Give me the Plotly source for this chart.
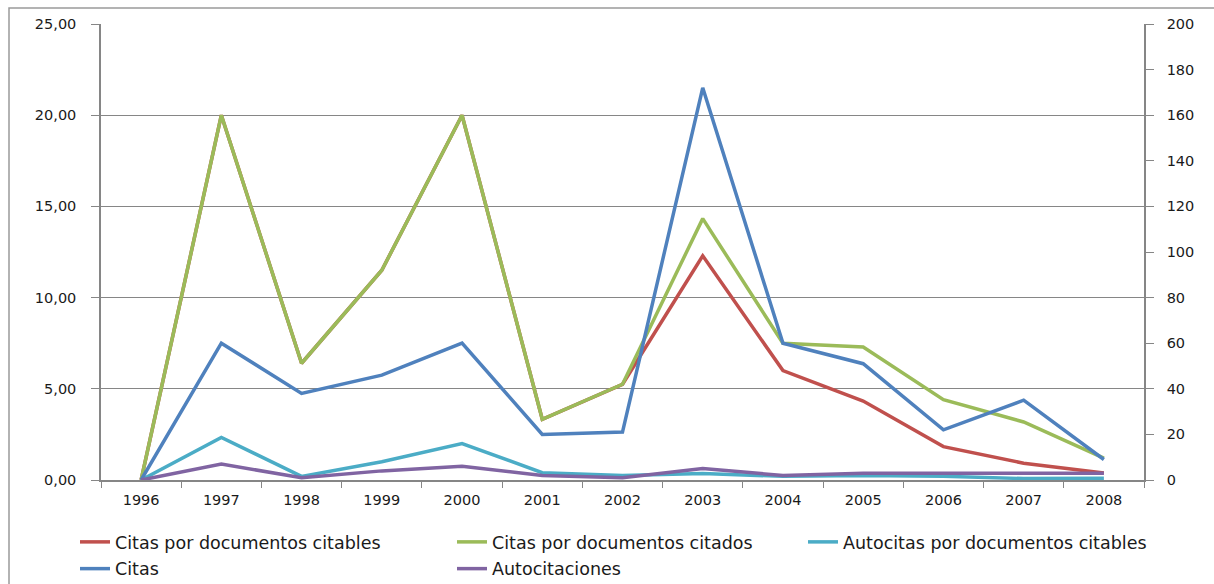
import plotly.graph_objects as go

years = ["1996", "1997", "1998", "1999", "2000", "2001", "2002",
         "2003", "2004", "2005", "2006", "2007", "2008"]

# ratios (left axis)
citas_por_citables = [0, 20.0, 6.4, 11.5, 20.0, 3.33, 5.25, 12.29, 6.0, 4.33, 1.83, 0.92, 0.38]
citas_por_citados = [0, 20.0, 6.4, 11.5, 20.0, 3.33, 5.25, 14.33, 7.5, 7.29, 4.4, 3.18, 1.2]
autocitas_por_citables = [0, 2.33, 0.2, 1.0, 2.0, 0.4, 0.25, 0.36, 0.2, 0.25, 0.2, 0.08, 0.1]

# counts (right axis)
citas = [0, 60, 38, 46, 60, 20, 21, 172, 60, 51, 22, 35, 9]
autocitaciones = [0, 7, 1, 4, 6, 2, 1, 5, 2, 3, 3, 3, 3]

FONT = "DejaVu Sans"
GRID = "#868686"
TEXT = "#1a1a1a"

W, H = 1214, 584
L, R, T, B = 101, 70, 24, 104
pw, ph = W - L - R, H - T - B

fig = go.Figure()

# (name, values, colour, y axis, legend column)
series = [
    ("Citas por documentos citables", citas_por_citables, "#C0504D", "y", "legend"),
    ("Citas por documentos citados", citas_por_citados, "#9BBB59", "y", "legend2"),
    ("Autocitas por documentos citables", autocitas_por_citables, "#4BACC6", "y", "legend3"),
    ("Citas", citas, "#4F81BD", "y2", "legend"),
    ("Autocitaciones", autocitaciones, "#8064A2", "y2", "legend2"),
]

for i, (name, vals, color, yax, leg) in enumerate(series):
    fig.add_trace(go.Scatter(x=years, y=vals, name=name, mode="lines",
                             line=dict(color=color, width=3.5), yaxis=yax,
                             legend=leg, legendgroup=f"g{i}"))

legend_top = 1 - 524 / H


def legend_at(x_px):
    return dict(
        orientation="v", xref="container", yref="container",
        x=x_px / W, xanchor="left", y=legend_top, yanchor="top",
        font=dict(size=17.5, color=TEXT), bgcolor="rgba(0,0,0,0)",
        itemwidth=30, tracegroupgap=1, traceorder="grouped",
    )


fig.update_layout(
    width=W, height=H,
    margin=dict(l=L, r=R, t=T, b=B, pad=0, autoexpand=False),
    paper_bgcolor="white", plot_bgcolor="white",
    separators=",.",
    font=dict(family=FONT, size=14, color=TEXT),
    xaxis=dict(
        type="category", tickson="boundaries", ticks="outside", ticklen=6,
        tickcolor=GRID, showline=True, linecolor=GRID, linewidth=1.5,
        showgrid=False, tickfont=dict(size=14.5, color=TEXT),
        range=[-0.5, 12.5], fixedrange=True, ticklabelstandoff=6,
    ),
    yaxis=dict(
        range=[0, 25], dtick=5, tickformat=".2f", ticks="outside", ticklen=8,
        tickcolor=GRID, showline=True, linecolor=GRID, linewidth=1.5,
        showgrid=True, gridcolor=GRID, gridwidth=1.2, zeroline=False,
        ticklabelstandoff=12, tickfont=dict(size=14.5, color=TEXT),
    ),
    yaxis2=dict(
        range=[0, 200], dtick=20, ticks="outside", ticklen=8,
        tickcolor=GRID, showline=True, linecolor=GRID, linewidth=1.5,
        showgrid=False, zeroline=False, overlaying="y", side="right",
        ticklabelstandoff=10, tickfont=dict(size=14.5, color=TEXT),
    ),
    legend=legend_at(75),
    legend2=legend_at(452),
    legend3=legend_at(803),
    showlegend=True,
    shapes=[dict(
        type="rect", xref="paper", yref="paper",
        x0=(9 - L) / pw, x1=(W + 20 - L) / pw,
        y0=(H - B - (H + 20)) / ph, y1=(H - B - 8) / ph,
        line=dict(color="#9a9a9a", width=1.5), fillcolor="rgba(0,0,0,0)",
        layer="below",
    )],
)

fig.write_html("out.html")
